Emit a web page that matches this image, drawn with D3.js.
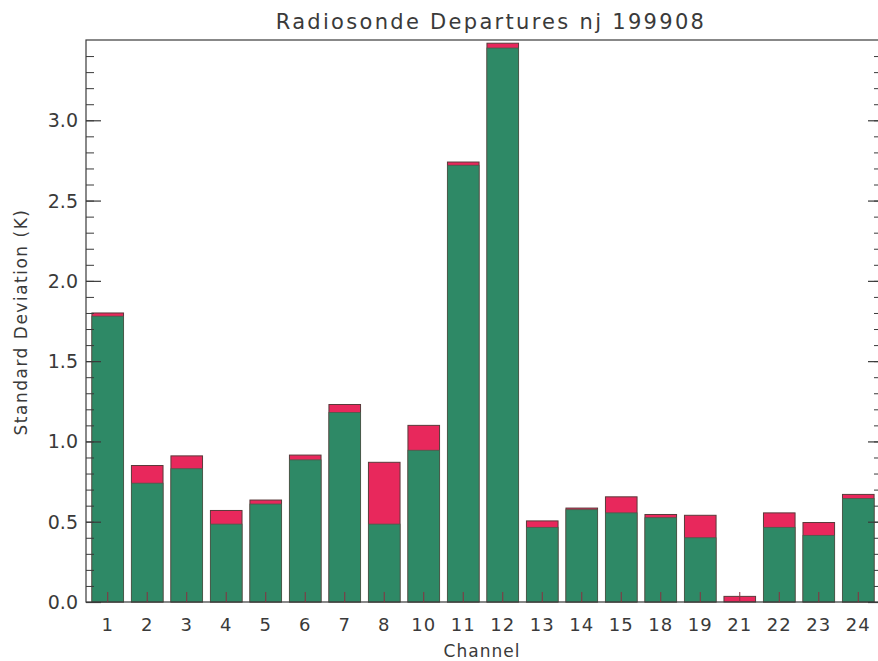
<!DOCTYPE html>
<html>
<head>
<meta charset="utf-8">
<script src="https://cdn.jsdelivr.net/npm/d3@7"></script>
<style>
  body { margin: 0; background: #fff; }
  text { font-family: "DejaVu Sans", sans-serif; fill: #3a3a3a; }
</style>
</head>
<body>
<svg id="chart" width="878" height="661"></svg>
<script>
// channels and the two stacked parts (green = base, red = extra up to total)
var channels = ["1","2","3","4","5","6","7","8","10","11","12","13","14","15","18","19","21","22","23","24"];
var base_sd  = [1.78,0.74,0.83,0.485,0.61,0.885,1.18,0.485,0.945,2.72,3.45,0.465,0.575,0.555,0.525,0.40,0.0,0.465,0.415,0.645];
var total_sd = [1.80,0.85,0.91,0.57,0.635,0.915,1.23,0.87,1.10,2.74,3.48,0.505,0.585,0.655,0.545,0.54,0.035,0.555,0.495,0.67];
var yMajor = [0,0.5,1,1.5,2,2.5,3];
var yMinor = d3.range(0,35).map(function(i){ return i/10; });

var svg = d3.select("#chart");
var plotLeft = 86, plotRight = 880, plotTop = 40, plotBottom = 602;

var x = d3.scaleBand()
  .domain(channels)
  .range([plotLeft, plotRight])
  .paddingInner(0.2)
  .paddingOuter(0.15);

var y = d3.scaleLinear()
  .domain([0, 3.5])
  .range([plotBottom, plotTop]);

var rows = channels.map(function(c, i){
  return {ch: c, base: base_sd[i], total: total_sd[i]};
});

var bars = svg.append("g");

// red part: full total height
bars.selectAll("rect.tot")
  .data(rows)
  .enter().append("rect")
  .attr("class", "tot")
  .attr("x", function(d){ return x(d.ch); })
  .attr("y", function(d){ return y(d.total); })
  .attr("width", x.bandwidth())
  .attr("height", function(d){ return y(0) - y(d.total); })
  .style("fill", "#e8285c")
  .style("stroke", "#5a3a3a")
  .style("stroke-width", 1);

// green part over it
bars.selectAll("rect.base")
  .data(rows.filter(function(d){ return d.base > 0; }))
  .enter().append("rect")
  .attr("class", "base")
  .attr("x", function(d){ return x(d.ch); })
  .attr("y", function(d){ return y(d.base); })
  .attr("width", x.bandwidth())
  .attr("height", function(d){ return y(0) - y(d.base); })
  .style("fill", "#2e8966")
  .style("stroke", "#4a5a4a")
  .style("stroke-width", 0.8);

// frame
svg.append("rect")
  .attr("x", plotLeft).attr("y", plotTop)
  .attr("width", plotRight - plotLeft).attr("height", plotBottom - plotTop)
  .style("fill", "none")
  .style("stroke", "#3a3a3a")
  .style("stroke-width", 1.2);

// y axis left
var yAxis = d3.axisRight(y).tickValues(yMajor).tickSize(15).tickFormat("");
svg.append("g").attr("transform", "translate(" + plotLeft + ",0)").call(yAxis)
  .call(function(g){ g.select(".domain").remove(); g.selectAll("line").style("stroke", "#3a3a3a").style("stroke-width", 1.2); });
var yMinorAxis = d3.axisRight(y).tickValues(yMinor).tickSize(8).tickFormat("");
svg.append("g").attr("transform", "translate(" + plotLeft + ",0)").call(yMinorAxis)
  .call(function(g){ g.select(".domain").remove(); g.selectAll("line").style("stroke", "#3a3a3a"); });

// labels on the left
svg.append("g").selectAll("text")
  .data(yMajor)
  .enter().append("text")
  .attr("x", 78)
  .attr("y", function(d){ return y(d) + 7; })
  .attr("text-anchor", "end")
  .style("font-size", "19px")
  .text(function(d){ return d3.format(".1f")(d); });

// y axis right (ticks inward)
svg.append("g").attr("transform", "translate(" + plotRight + ",0)")
  .call(d3.axisLeft(y).tickValues(yMajor).tickSize(12).tickFormat(""))
  .call(function(g){ g.select(".domain").remove(); g.selectAll("line").style("stroke", "#3a3a3a").style("stroke-width", 1.2); });
svg.append("g").attr("transform", "translate(" + plotRight + ",0)")
  .call(d3.axisLeft(y).tickValues(yMinor).tickSize(6).tickFormat(""))
  .call(function(g){ g.select(".domain").remove(); g.selectAll("line").style("stroke", "#3a3a3a"); });

// x axis ticks upward, labels below
var xAxis = d3.axisTop(x).tickSize(10).tickFormat("");
svg.append("g").attr("transform", "translate(0," + plotBottom + ")").call(xAxis)
  .call(function(g){ g.select(".domain").remove(); g.selectAll("line").style("stroke", "#8a3040"); });

svg.append("g").selectAll("text")
  .data(channels)
  .enter().append("text")
  .attr("x", function(d){ return x(d) + x.bandwidth()/2; })
  .attr("y", 631)
  .attr("text-anchor", "middle")
  .style("font-size", "18px")
  .style("letter-spacing", "1px")
  .text(function(d){ return d; });

// titles
svg.append("text")
  .attr("x", 491).attr("y", 29)
  .attr("text-anchor", "middle")
  .style("font-size", "21px")
  .style("letter-spacing", "2.3px")
  .text("Radiosonde Departures nj 199908");

svg.append("text")
  .attr("x", 482).attr("y", 657)
  .attr("text-anchor", "middle")
  .style("font-size", "17px")
  .style("letter-spacing", "1px")
  .text("Channel");

svg.append("text")
  .attr("transform", "translate(27,322) rotate(-90)")
  .attr("text-anchor", "middle")
  .style("font-size", "17px")
  .style("letter-spacing", "1.5px")
  .text("Standard Deviation (K)");
</script>
</body>
</html>
